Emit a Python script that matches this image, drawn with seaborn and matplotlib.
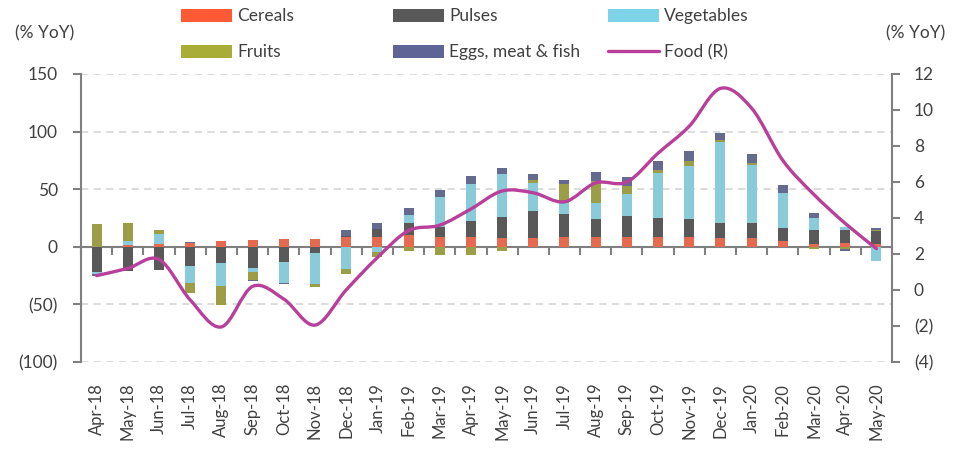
import numpy as np
import pandas as pd
import matplotlib
matplotlib.use("Agg")
import matplotlib.pyplot as plt
from matplotlib.path import Path
from matplotlib.patches import PathPatch, Patch
from matplotlib.lines import Line2D
import seaborn as sns

months = ["Apr-18", "May-18", "Jun-18", "Jul-18", "Aug-18", "Sep-18", "Oct-18", "Nov-18",
          "Dec-18", "Jan-19", "Feb-19", "Mar-19", "Apr-19", "May-19", "Jun-19", "Jul-19",
          "Aug-19", "Sep-19", "Oct-19", "Nov-19", "Dec-19", "Jan-20", "Feb-20", "Mar-20",
          "Apr-20", "May-20"]

cereals = [-0.5, 1.5, 2.3, 3.5, 5.0, 5.5, 6.4, 7.2, 8.1, 8.1, 9.9, 8.7, 8.4, 7.8, 7.8, 8.4,
           8.4, 8.4, 8.4, 8.1, 7.8, 7.8, 4.9, 2.3, 2.9, 2.0]
pulses = [-21.7, -21.0, -20.0, -17.0, -14.0, -18.0, -13.3, -5.5, 1.5, 7.5, 10.4, 8.7, 13.9,
          18.3, 23.2, 20.3, 15.9, 18.0, 16.5, 16.2, 13.0, 12.5, 11.6, 11.9, 11.9, 11.9]
vegetables = [-1.5, 3.8, 8.7, -14.0, -20.0, -4.0, -18.5, -26.7, -19.7, -4.9, 7.0, 26.0, 31.9,
              36.8, 24.6, 9.3, 13.6, 19.7, 38.8, 45.8, 69.9, 51.0, 30.1, 11.0, 2.0, -12.2]
fruits = [20.0, 15.0, 3.5, -9.0, -16.5, -7.0, 0.5, -2.6, -4.3, -3.8, -3.8, -7.5, -6.7, -3.8,
          2.0, 16.8, 19.1, 6.7, 2.9, 4.3, 2.0, 1.7, 0.0, -2.0, -1.5, 0.9]
eggs = [-1.5, 0.5, 0.0, 1.0, 0.0, -1.0, -0.5, 0.0, 5.0, 5.2, 6.4, 5.8, 7.5, 5.8, 5.5, 3.5,
        7.5, 7.5, 7.5, 8.7, 6.4, 7.5, 6.7, 3.8, -2.0, 1.5]
food = [0.8, 1.2, 1.7, -0.55, -2.05, 0.2, -0.5, -1.95, 0.0, 1.8, 3.3, 3.6, 4.5, 5.5, 5.4,
        4.9, 5.95, 6.0, 7.6, 9.1, 11.2, 10.1, 7.2, 5.3, 3.7, 2.3]

series_names = ["Cereals", "Pulses", "Vegetables", "Fruits", "Eggs, meat & fish"]
series_vals = [cereals, pulses, vegetables, fruits, eggs]
colors = ["#FF5A36", "#595959", "#7DD3E7", "#A8AD37", "#5E6596"]
line_color = "#B8409A"

left_ticks = [-100, -50, 0, 50, 100, 150]
left_labels = ["(100)", "(50)", "0", "50", "100", "150"]
right_ticks = [-4, -2, 0, 2, 4, 6, 8, 10, 12]
right_labels = ["(4)", "(2)", "0", "2", "4", "6", "8", "10", "12"]

sns.set_style("white")
plt.rcParams["font.family"] = ["Lato", "DejaVu Sans"]
text_color = "#404040"
axis_color = "#808080"
fs = 12.5

fig = plt.figure(figsize=(9.63, 4.5), dpi=100)
ax = fig.add_axes([81 / 963, 1 - 362 / 450, 811 / 963, 288 / 450])

pos_bottom = np.zeros(len(months))
neg_bottom = np.zeros(len(months))
for name, vals, col in zip(series_names, series_vals, colors):
    v = np.array(vals, dtype=float)
    pos = np.where(v > 0, v, 0.0)
    neg = np.where(v < 0, v, 0.0)
    df_p = pd.DataFrame({"month": months, "value": pos})
    df_n = pd.DataFrame({"month": months, "value": neg})
    sns.barplot(data=df_p, x="month", y="value", order=months, color=col, width=0.32,
                errorbar=None, bottom=pos_bottom.copy(), linewidth=0, ax=ax)
    sns.barplot(data=df_n, x="month", y="value", order=months, color=col, width=0.32,
                errorbar=None, bottom=neg_bottom.copy(), linewidth=0, ax=ax)
    pos_bottom += pos
    neg_bottom += neg

ax.set_xlim(-0.5, len(months) - 0.5)
ax.set_ylim(-100, 150)
ax.set_yticks(left_ticks)
ax.set_yticklabels(left_labels)
ax.set_xlabel("")
ax.set_ylabel("")
ax.set_xticks(range(len(months)))
ax.set_xticklabels(months, rotation=90, ha="center", va="top")
ax.tick_params(axis="x", length=0, pad=15, labelsize=12, labelcolor=text_color)
ax.tick_params(axis="y", length=5.8, width=1.5, color=axis_color, direction="out",
               pad=11, labelsize=fs, labelcolor=text_color)
for t in ax.get_yticks():
    if t != 0:
        ax.axhline(t, color="#D9D9D9", lw=1.3, ls=(0, (4, 3)), zorder=0)
for s in ["top", "bottom", "right"]:
    ax.spines[s].set_visible(False)
ax.spines["left"].set_color(axis_color)
ax.spines["left"].set_linewidth(1.5)

# zero axis line with category-boundary ticks
sec = ax.secondary_xaxis(100 / 250)
sec.set_xticks(np.arange(-0.5, len(months), 1.0))
sec.set_xticklabels([])
sec.tick_params(axis="x", length=5.5, width=1.5, color=axis_color, direction="out")
for s in sec.spines.values():
    s.set_color(axis_color)
    s.set_linewidth(1.5)

# right axis with smoothed food line
ax2 = ax.twinx()
ax2.set_ylim(-4, 12)
ax2.set_yticks(right_ticks)
ax2.set_yticklabels(right_labels)
ax2.tick_params(axis="y", length=5.8, width=1.5, color=axis_color, direction="out",
                pad=10, labelsize=fs, labelcolor=text_color)
for s in ["top", "bottom", "left"]:
    ax2.spines[s].set_visible(False)
ax2.spines["right"].set_color(axis_color)
ax2.spines["right"].set_linewidth(1.5)
ax2.grid(False)

xs = np.arange(len(months), dtype=float)
ys = np.array(food, dtype=float)
verts = [(xs[0], ys[0])]
codes = [Path.MOVETO]
n = len(xs)
k = 1.0 / 6.0
for i in range(n - 1):
    i0 = i - 1 if i > 0 else i
    i3 = i + 2 if i + 2 < n else i + 1
    c1 = (xs[i] + (xs[i + 1] - xs[i0]) * k, ys[i] + (ys[i + 1] - ys[i0]) * k)
    c2 = (xs[i + 1] - (xs[i3] - xs[i]) * k, ys[i + 1] - (ys[i3] - ys[i]) * k)
    verts += [c1, c2, (xs[i + 1], ys[i + 1])]
    codes += [Path.CURVE4] * 3
ax2.add_patch(PathPatch(Path(verts, codes), fill=False, edgecolor=line_color, lw=2.4,
                        capstyle="round", joinstyle="round", zorder=5))
ax2.set_xlim(-0.5, len(months) - 0.5)

# legends (three fixed columns)
handles = [Patch(facecolor=c, edgecolor="none") for c in colors] + \
          [Line2D([], [], color=line_color, lw=2.4)]
labels = series_names + ["Food (R)"]
cols = [[0, 3], [1, 4], [2, 5]]
col_x = [178, 390, 605]
for cx, idxs in zip(col_x, cols):
    fig.legend([handles[i] for i in idxs], [labels[i] for i in idxs],
               loc="upper left", bbox_to_anchor=(cx / 963, 1 - 5 / 450),
               frameon=False, fontsize=fs, handlelength=2.9, handleheight=0.8,
               handletextpad=0.3, labelspacing=1.15, borderpad=0.2, borderaxespad=0,
               labelcolor=text_color)

fig.text(15 / 963, 1 - 33 / 450, "(% YoY)", fontsize=fs, color=text_color,
         ha="left", va="center")
fig.text(945 / 963, 1 - 33 / 450, "(% YoY)", fontsize=fs, color=text_color,
         ha="right", va="center")

fig.savefig("out.png", dpi=100)
